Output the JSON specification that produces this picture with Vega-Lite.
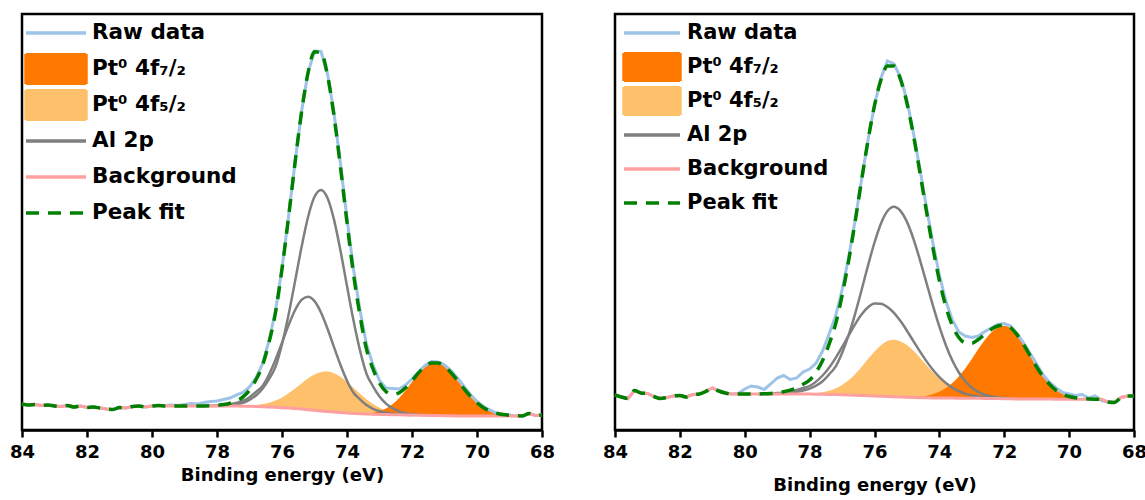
{
  "$schema": "https://vega.github.io/schema/vega-lite/v6.json",
  "background": "white",
  "padding": {"left": 8, "top": 12, "right": 5, "bottom": 5},
  "spacing": 73,
  "bounds": "flush",
  "config": {
    "view": {"stroke": "black", "strokeWidth": 2.5},
    "axis": {"domainColor": "black", "domainWidth": 2.5, "tickColor": "black", "tickWidth": 2.5, "tickSize": 7, "labelFont": "DejaVu Sans", "labelFontSize": 18, "labelFontWeight": "bold", "labelColor": "black", "labelPadding": 6, "titleFont": "DejaVu Sans", "titleFontSize": 18, "titleFontWeight": "bold", "titleColor": "black", "grid": false, "labelFlush": false, "labelOverlap": false},
    "text": {"font": "DejaVu Sans"}
  },
  "resolve": {"scale": {"color": "independent"}, "legend": {"color": "independent"}},
  "datasets": {
    "a": [
      {"E":84.0,"bg":26.0,"raw":26.0,"fit":26.0},
      {"E":83.8,"bg":25.0,"raw":25.0,"fit":25.0},
      {"E":83.6,"bg":25.5,"raw":25.5,"fit":25.5},
      {"E":83.4,"bg":24.5,"raw":24.5,"fit":24.5},
      {"E":83.2,"bg":25.0,"raw":25.0,"fit":25.0},
      {"E":83.0,"bg":24.0,"raw":24.0,"fit":24.0},
      {"E":82.8,"bg":23.5,"raw":23.5,"fit":23.5},
      {"E":82.6,"bg":24.5,"raw":24.5,"fit":24.5},
      {"E":82.4,"bg":23.0,"raw":23.0,"fit":23.0},
      {"E":82.2,"bg":24.0,"raw":24.0,"fit":24.0},
      {"E":82.0,"bg":22.5,"raw":22.5,"fit":22.5},
      {"E":81.8,"bg":23.0,"raw":23.0,"fit":23.0},
      {"E":81.6,"bg":22.0,"raw":22.0,"fit":22.0},
      {"E":81.4,"bg":21.0,"raw":21.0,"fit":21.0},
      {"E":81.2,"bg":20.5,"raw":20.5,"fit":20.5},
      {"E":81.0,"bg":22.5,"raw":22.5,"fit":22.5},
      {"E":80.8,"bg":22.0,"raw":22.0,"fit":22.0},
      {"E":80.6,"bg":23.5,"raw":23.5,"fit":23.5},
      {"E":80.4,"bg":24.0,"raw":24.0,"fit":24.0},
      {"E":80.2,"bg":23.0,"raw":23.0,"fit":23.0},
      {"E":80.0,"bg":24.0,"raw":24.0,"fit":24.0},
      {"E":79.8,"bg":24.5,"raw":24.5,"fit":24.5},
      {"E":79.6,"bg":24.0,"raw":24.5,"fit":24.0},
      {"E":79.4,"bg":24.0,"raw":25.0,"fit":24.0},
      {"E":79.2,"bg":24.0,"raw":24.5,"fit":24.0},
      {"E":79.0,"bg":24.0,"raw":25.5,"fit":24.0},
      {"E":78.8,"bg":24.0,"raw":26.5,"fit":24.0},
      {"E":78.6,"bg":24.0,"raw":26.0,"fit":24.0},
      {"E":78.4,"bg":24.0,"raw":27.5,"fit":24.0,"al2":24.0},
      {"E":78.2,"bg":24.0,"raw":28.5,"fit":24.2,"al1":24.0,"al2":24.2},
      {"E":78.0,"bg":24.0,"raw":29.0,"fit":24.7,"al1":24.2,"al2":24.5},
      {"E":77.8,"bg":24.0,"raw":30.5,"fit":25.4,"al1":24.4,"al2":25.0},
      {"E":77.6,"bg":24.0,"raw":32.0,"fit":26.7,"al1":24.9,"al2":25.8,"p52":24.0},
      {"E":77.4,"bg":23.9,"raw":35.0,"fit":29.1,"al1":25.7,"al2":27.1,"p52":24.1},
      {"E":77.2,"bg":23.8,"raw":37.5,"fit":33.1,"al1":27.3,"al2":29.3,"p52":24.1},
      {"E":77.0,"bg":23.7,"raw":43.0,"fit":39.9,"al1":30.2,"al2":32.7,"p52":24.5},
      {"E":76.8,"bg":23.5,"raw":52.0,"fit":50.4,"al1":34.5,"al2":38.0,"p52":24.9},
      {"E":76.6,"bg":23.3,"raw":66.0,"fit":64.6,"al1":41.3,"al2":44.0,"p52":25.9},
      {"E":76.4,"bg":23.0,"raw":89.0,"fit":87.6,"al1":51.0,"al2":55.4,"p52":27.2},
      {"E":76.2,"bg":22.7,"raw":119.0,"fit":117.5,"al1":63.1,"al2":70.3,"p52":29.5},
      {"E":76.0,"bg":22.3,"raw":162.0,"fit":161.0,"al1":85.7,"al2":87.3,"p52":32.6},
      {"E":75.8,"bg":21.9,"raw":213.0,"fit":212.4,"al1":114.9,"al2":104.6,"p52":36.7},
      {"E":75.6,"bg":21.4,"raw":267.5,"fit":266.9,"al1":148.5,"al2":119.8,"p52":41.4},
      {"E":75.4,"bg":20.9,"raw":318.0,"fit":317.6,"al1":182.7,"al2":130.1,"p52":46.6},
      {"E":75.2,"bg":20.3,"raw":357.5,"fit":357.0,"al1":212.8,"al2":133.3,"p52":51.5},
      {"E":75.0,"bg":19.7,"raw":379.0,"fit":378.2,"al1":233.2,"al2":128.9,"p52":55.5},
      {"E":74.8,"bg":19.1,"raw":378.5,"fit":377.4,"al1":240.1,"al2":117.5,"p52":58.0},
      {"E":74.6,"bg":18.5,"raw":356.5,"fit":354.7,"al1":232.0,"al2":101.2,"p52":58.5},
      {"E":74.4,"bg":17.9,"raw":317.0,"fit":314.3,"al1":210.4,"al2":82.9,"p52":56.8},
      {"E":74.2,"bg":17.4,"raw":266.0,"fit":262.6,"al1":179.2,"al2":65.0,"p52":53.2},
      {"E":74.0,"bg":16.9,"raw":211.5,"fit":207.6,"al1":144.0,"al2":49.3,"p52":48.1},
      {"E":73.8,"bg":16.5,"raw":161.0,"fit":156.0,"al1":109.5,"al2":37.2,"p52":42.2,"p72":16.6},
      {"E":73.6,"bg":16.2,"raw":120.0,"fit":114.4,"al1":79.6,"al2":30.7,"p52":36.2,"p72":16.5},
      {"E":73.4,"bg":15.9,"raw":85.5,"fit":80.9,"al1":56.3,"al2":24.9,"p52":30.7,"p72":16.7},
      {"E":73.2,"bg":15.7,"raw":65.0,"fit":61.1,"al1":43.7,"al2":21.2,"p52":26.0,"p72":17.3},
      {"E":73.0,"bg":15.5,"raw":49.5,"fit":46.8,"al1":33.5,"al2":18.7,"p52":22.3,"p72":18.8},
      {"E":72.8,"bg":15.4,"raw":42.0,"fit":38.4,"al1":26.4,"al2":17.2,"p52":19.6,"p72":21.4},
      {"E":72.6,"bg":15.3,"raw":41.5,"fit":35.8,"al1":21.8,"al2":16.3,"p52":17.9,"p72":25.7},
      {"E":72.4,"bg":15.2,"raw":41.0,"fit":37.1,"al1":18.7,"al2":15.7,"p52":16.6,"p72":31.7},
      {"E":72.2,"bg":15.1,"raw":45.0,"fit":42.2,"al1":16.9,"al2":15.3,"p52":15.9,"p72":39.4},
      {"E":72.0,"bg":15.0,"raw":51.0,"fit":49.2,"al1":15.9,"al2":15.0,"p52":15.3,"p72":48.0},
      {"E":71.8,"bg":14.8,"raw":58.0,"fit":57.1,"al1":15.2,"p52":15.0,"p72":56.5},
      {"E":71.6,"bg":14.7,"raw":64.5,"fit":63.5,"al1":14.9,"p52":14.7,"p72":63.3},
      {"E":71.4,"bg":14.5,"raw":68.5,"fit":67.0,"al1":14.5,"p72":67.0},
      {"E":71.2,"bg":14.4,"raw":68.0,"fit":67.0,"p72":67.0},
      {"E":71.0,"bg":14.2,"raw":65.0,"fit":63.4,"p72":63.4},
      {"E":70.8,"bg":14.2,"raw":59.5,"fit":57.3,"p72":57.3},
      {"E":70.6,"bg":14.1,"raw":52.0,"fit":49.6,"p72":49.6},
      {"E":70.4,"bg":14.1,"raw":43.5,"fit":41.3,"p72":41.3},
      {"E":70.2,"bg":14.0,"raw":35.5,"fit":33.6,"p72":33.6},
      {"E":70.0,"bg":14.0,"raw":28.5,"fit":27.2,"p72":27.2},
      {"E":69.8,"bg":14.0,"raw":23.5,"fit":22.3,"p72":22.3},
      {"E":69.6,"bg":14.0,"raw":20.0,"fit":18.9,"p72":18.9},
      {"E":69.4,"bg":14.0,"raw":17.0,"fit":16.7,"p72":16.7},
      {"E":69.2,"bg":14.0,"raw":15.5,"fit":15.4,"p72":15.4},
      {"E":69.0,"bg":14.0,"raw":15.0,"fit":14.7,"p72":14.7},
      {"E":68.8,"bg":14.0,"raw":14.0,"fit":14.3,"p72":14.3},
      {"E":68.6,"bg":14.0,"raw":14.5,"fit":14.1,"p72":14.0},
      {"E":68.4,"bg":16.5,"raw":16.5,"fit":16.5},
      {"E":68.2,"bg":14.5,"raw":14.5,"fit":14.5},
      {"E":68.0,"bg":15.0,"raw":15.0,"fit":15.0}
    ],
    "b": [
      {"E":84.0,"bg":35.0,"raw":35.0,"fit":35.0},
      {"E":83.8,"bg":33.0,"raw":33.0,"fit":33.0},
      {"E":83.6,"bg":31.5,"raw":31.5,"fit":31.5},
      {"E":83.4,"bg":39.5,"raw":39.5,"fit":39.5},
      {"E":83.2,"bg":37.0,"raw":37.0,"fit":37.0},
      {"E":83.0,"bg":36.5,"raw":36.5,"fit":36.5},
      {"E":82.8,"bg":33.5,"raw":33.5,"fit":33.5},
      {"E":82.6,"bg":31.5,"raw":31.5,"fit":31.5},
      {"E":82.4,"bg":32.5,"raw":32.5,"fit":32.5},
      {"E":82.2,"bg":34.0,"raw":34.0,"fit":34.0},
      {"E":82.0,"bg":34.5,"raw":34.5,"fit":34.5},
      {"E":81.8,"bg":33.0,"raw":33.0,"fit":33.0},
      {"E":81.6,"bg":35.5,"raw":35.5,"fit":35.5},
      {"E":81.4,"bg":36.0,"raw":36.0,"fit":36.0},
      {"E":81.2,"bg":38.5,"raw":38.5,"fit":38.5},
      {"E":81.0,"bg":42.0,"raw":42.0,"fit":42.0},
      {"E":80.8,"bg":39.0,"raw":39.0,"fit":39.0},
      {"E":80.6,"bg":37.0,"raw":37.0,"fit":37.0},
      {"E":80.4,"bg":36.0,"raw":36.0,"fit":36.0},
      {"E":80.2,"bg":36.0,"raw":36.5,"fit":36.0},
      {"E":80.0,"bg":36.0,"raw":41.0,"fit":36.0},
      {"E":79.8,"bg":36.0,"raw":44.0,"fit":36.0},
      {"E":79.6,"bg":36.0,"raw":43.0,"fit":36.0,"al2":36.0},
      {"E":79.4,"bg":36.0,"raw":40.5,"fit":36.2,"al2":36.2},
      {"E":79.2,"bg":36.0,"raw":46.0,"fit":36.5,"al1":36.0,"al2":36.5},
      {"E":79.0,"bg":36.0,"raw":52.0,"fit":37.2,"al1":36.3,"al2":36.9},
      {"E":78.8,"bg":36.0,"raw":54.5,"fit":38.3,"al1":36.7,"al2":37.6},
      {"E":78.6,"bg":36.0,"raw":50.5,"fit":39.9,"al1":37.3,"al2":38.6},
      {"E":78.4,"bg":36.0,"raw":52.0,"fit":42.2,"al1":38.2,"al2":40.0,"p52":36.0},
      {"E":78.2,"bg":36.0,"raw":58.0,"fit":45.8,"al1":39.5,"al2":42.0,"p52":36.3},
      {"E":78.0,"bg":35.9,"raw":61.0,"fit":50.0,"al1":41.4,"al2":44.0,"p52":36.4},
      {"E":77.8,"bg":35.8,"raw":67.0,"fit":58.0,"al1":44.3,"al2":48.4,"p52":36.9},
      {"E":77.6,"bg":35.7,"raw":79.0,"fit":69.5,"al1":48.7,"al2":54.5,"p52":37.7},
      {"E":77.4,"bg":35.6,"raw":96.0,"fit":85.9,"al1":55.6,"al2":62.3,"p52":39.2},
      {"E":77.2,"bg":35.4,"raw":114.0,"fit":105.9,"al1":63.4,"al2":71.9,"p52":41.4},
      {"E":77.0,"bg":35.2,"raw":140.0,"fit":134.3,"al1":77.0,"al2":82.8,"p52":44.9},
      {"E":76.8,"bg":35.0,"raw":172.0,"fit":168.7,"al1":94.7,"al2":94.3,"p52":49.7},
      {"E":76.6,"bg":34.8,"raw":209.0,"fit":207.8,"al1":115.9,"al2":105.7,"p52":55.8},
      {"E":76.4,"bg":34.5,"raw":250.0,"fit":249.4,"al1":139.8,"al2":115.5,"p52":63.1},
      {"E":76.2,"bg":34.3,"raw":290.0,"fit":289.5,"al1":164.5,"al2":122.7,"p52":70.9},
      {"E":76.0,"bg":34.0,"raw":325.0,"fit":324.5,"al1":187.5,"al2":126.5,"p52":78.5},
      {"E":75.8,"bg":33.7,"raw":352.0,"fit":350.2,"al1":206.6,"al2":126.3,"p52":84.7},
      {"E":75.6,"bg":33.4,"raw":369.0,"fit":364.1,"al1":219.0,"al2":123.0,"p52":88.9},
      {"E":75.4,"bg":33.2,"raw":366.0,"fit":364.1,"al1":223.2,"al2":117.1,"p52":90.2},
      {"E":75.2,"bg":32.9,"raw":353.0,"fit":350.8,"al1":219.1,"al2":108.9,"p52":88.6},
      {"E":75.0,"bg":32.7,"raw":330.0,"fit":326.9,"al1":208.1,"al2":99.3,"p52":84.9,"p72":32.7},
      {"E":74.8,"bg":32.5,"raw":297.0,"fit":294.9,"al1":191.2,"al2":88.9,"p52":79.2,"p72":33.1},
      {"E":74.6,"bg":32.3,"raw":261.0,"fit":257.6,"al1":170.2,"al2":78.6,"p52":72.3,"p72":33.4},
      {"E":74.4,"bg":32.2,"raw":223.0,"fit":219.0,"al1":147.4,"al2":68.9,"p52":65.0,"p72":34.3},
      {"E":74.2,"bg":32.1,"raw":187.0,"fit":182.2,"al1":124.6,"al2":60.3,"p52":57.8,"p72":35.8},
      {"E":74.0,"bg":32.0,"raw":155.0,"fit":149.6,"al1":103.3,"al2":52.9,"p52":51.2,"p72":38.2},
      {"E":73.8,"bg":32.0,"raw":129.0,"fit":123.5,"al1":84.8,"al2":47.0,"p52":45.8,"p72":41.9},
      {"E":73.6,"bg":31.9,"raw":110.0,"fit":104.5,"al1":69.5,"al2":42.4,"p52":41.4,"p72":46.9},
      {"E":73.4,"bg":31.8,"raw":98.0,"fit":92.5,"al1":57.5,"al2":38.8,"p52":38.0,"p72":53.6},
      {"E":73.2,"bg":31.8,"raw":94.0,"fit":87.2,"al1":48.7,"al2":36.4,"p52":35.7,"p72":61.8},
      {"E":73.0,"bg":31.7,"raw":92.5,"fit":86.8,"al1":42.3,"al2":34.6,"p52":34.0,"p72":71.0},
      {"E":72.8,"bg":31.7,"raw":94.0,"fit":90.5,"al1":38.2,"al2":33.5,"p52":33.0,"p72":80.9},
      {"E":72.6,"bg":31.6,"raw":98.5,"fit":95.6,"al1":35.4,"al2":32.6,"p52":32.3,"p72":90.1},
      {"E":72.4,"bg":31.5,"raw":102.0,"fit":100.7,"al1":33.6,"al2":32.1,"p52":31.9,"p72":97.6},
      {"E":72.2,"bg":31.4,"raw":105.5,"fit":104.0,"al1":32.5,"al2":31.7,"p52":31.4,"p72":102.6},
      {"E":72.0,"bg":31.3,"raw":106.5,"fit":104.9,"al1":31.9,"al2":31.3,"p72":104.3},
      {"E":71.8,"bg":31.2,"raw":104.0,"fit":102.2,"al1":31.5,"p72":101.9},
      {"E":71.6,"bg":31.1,"raw":96.0,"fit":95.1,"al1":31.1,"p72":95.1},
      {"E":71.4,"bg":31.0,"raw":87.0,"fit":85.3,"p72":85.3},
      {"E":71.2,"bg":31.0,"raw":76.5,"fit":74.1,"p72":74.1},
      {"E":71.0,"bg":30.9,"raw":66.0,"fit":63.0,"p72":63.0},
      {"E":70.8,"bg":30.9,"raw":55.0,"fit":53.2,"p72":53.2},
      {"E":70.6,"bg":30.9,"raw":47.5,"fit":45.5,"p72":45.5},
      {"E":70.4,"bg":30.8,"raw":42.0,"fit":39.7,"p72":39.7},
      {"E":70.2,"bg":30.8,"raw":37.5,"fit":35.9,"p72":35.9},
      {"E":70.0,"bg":30.8,"raw":36.0,"fit":33.5,"p72":33.5},
      {"E":69.8,"bg":30.8,"raw":34.5,"fit":32.2,"p72":32.2},
      {"E":69.6,"bg":30.8,"raw":35.5,"fit":31.4,"p72":31.4},
      {"E":69.4,"bg":30.8,"raw":32.0,"fit":31.1,"p72":31.1},
      {"E":69.2,"bg":30.8,"raw":34.0,"fit":30.8,"p72":30.8},
      {"E":69.0,"bg":30.8,"raw":29.5,"fit":30.8},
      {"E":68.8,"bg":28.0,"raw":28.0,"fit":28.0},
      {"E":68.6,"bg":27.5,"raw":27.5,"fit":27.5},
      {"E":68.4,"bg":32.5,"raw":32.5,"fit":32.5},
      {"E":68.2,"bg":34.0,"raw":34.0,"fit":34.0},
      {"E":68.0,"bg":34.0,"raw":34.0,"fit":34.0}
    ]
  },
  "hconcat": [
    {
      "width": 520,
      "height": 416,
      "data": {"name": "a"},
      "encoding": {
        "x": {"field": "E", "type": "quantitative", "scale": {"domain": [68, 84], "reverse": true, "nice": false, "zero": false}, "axis": {"values": [68, 70, 72, 74, 76, 78, 80, 82, 84], "title": "Binding energy (eV)", "titlePadding": 5, "format": "d"}}
      },
      "layer": [
        {"mark": {"type": "area", "interpolate": "monotone"}, "encoding": {"y": {"field": "p52", "type": "quantitative", "scale": {"domain": [0, 416], "nice": false, "zero": false}, "axis": null}, "y2": {"field": "bg"}, "color": {"datum": "Pt⁰ 4f₅/₂", "type": "nominal", "scale": {"domain": ["Raw data", "Pt⁰ 4f₇/₂", "Pt⁰ 4f₅/₂", "Al 2p", "Background", "Peak fit"], "range": ["#9DC3E6", "#FF7800", "#FFC06B", "#7F7F7F", "#FFA0A0", "#008000"]}, "legend": {"title": null, "orient": "none", "legendX": 2, "legendY": 3, "padding": 0, "symbolSize": 3600, "clipHeight": 32, "rowPadding": 4, "labelOffset": 4, "symbolOffset": 0, "labelFont": "DejaVu Sans", "labelFontSize": 21.5, "labelFontWeight": "bold", "labelColor": "black", "labelLimit": 400, "symbolStrokeWidth": 3.5, "encode": {"symbols": {"update": {"shape": {"signal": "indexof(datum.value, 'Pt') == 0 ? 'M-1,-0.5H1V0.5H-1Z' : 'M-1,0H1'"}, "fill": {"signal": "datum.value == 'Pt⁰ 4f₇/₂' ? '#FF7800' : datum.value == 'Pt⁰ 4f₅/₂' ? '#FFC06B' : 'transparent'"}, "stroke": {"signal": "datum.value == 'Raw data' ? '#9DC3E6' : datum.value == 'Al 2p' ? '#7F7F7F' : datum.value == 'Background' ? '#FFA0A0' : datum.value == 'Peak fit' ? '#008000' : 'transparent'"}, "strokeDash": {"signal": "datum.value == 'Peak fit' ? [13, 9] : [1, 0]"}, "strokeWidth": {"value": 3.5}, "opacity": {"value": 1}}}}}}}},
        {"mark": {"type": "area", "interpolate": "monotone"}, "encoding": {"y": {"field": "p72", "type": "quantitative", "axis": null}, "y2": {"field": "bg"}, "color": {"datum": "Pt⁰ 4f₇/₂", "type": "nominal"}}},
        {"mark": {"type": "line", "interpolate": "monotone", "strokeWidth": 2.5}, "encoding": {"y": {"field": "al1", "type": "quantitative", "axis": null}, "color": {"datum": "Al 2p", "type": "nominal"}}},
        {"mark": {"type": "line", "interpolate": "monotone", "strokeWidth": 2.5}, "encoding": {"y": {"field": "al2", "type": "quantitative", "axis": null}, "color": {"datum": "Al 2p", "type": "nominal"}}},
        {"mark": {"type": "line", "strokeWidth": 3}, "encoding": {"y": {"field": "raw", "type": "quantitative", "axis": null}, "color": {"datum": "Raw data", "type": "nominal"}}},
        {"mark": {"type": "line", "strokeWidth": 3}, "encoding": {"y": {"field": "bg", "type": "quantitative", "axis": null}, "color": {"datum": "Background", "type": "nominal"}}},
        {"mark": {"type": "line", "interpolate": "monotone", "strokeWidth": 3.5, "strokeDash": [13, 9]}, "encoding": {"y": {"field": "fit", "type": "quantitative", "axis": null}, "color": {"datum": "Peak fit", "type": "nominal"}}},
        {"data": {"values": [{"label": "(a)"}]}, "mark": {"type": "text", "align": "right", "baseline": "middle", "fontSize": 19, "fontWeight": "bold", "font": "DejaVu Sans", "color": "black"}, "encoding": {"x": {"datum": 68.22}, "y": {"datum": 400}, "text": {"field": "label"}}}
      ]
    },
    {
      "width": 519,
      "height": 416,
      "data": {"name": "b"},
      "encoding": {
        "x": {"field": "E", "type": "quantitative", "scale": {"domain": [68, 84], "reverse": true, "nice": false, "zero": false}, "axis": {"values": [68, 70, 72, 74, 76, 78, 80, 82, 84], "title": "Binding energy (eV)", "titlePadding": 15, "format": "d"}}
      },
      "layer": [
        {"mark": {"type": "area", "interpolate": "monotone"}, "encoding": {"y": {"field": "p52", "type": "quantitative", "scale": {"domain": [0, 416], "nice": false, "zero": false}, "axis": null}, "y2": {"field": "bg"}, "color": {"datum": "Pt⁰ 4f₅/₂", "type": "nominal", "scale": {"domain": ["Raw data", "Pt⁰ 4f₇/₂", "Pt⁰ 4f₅/₂", "Al 2p", "Background", "Peak fit"], "range": ["#9DC3E6", "#FF7800", "#FFC06B", "#7F7F7F", "#FFA0A0", "#008000"]}, "legend": {"title": null, "orient": "none", "legendX": 7, "legendY": 4, "padding": 0, "symbolSize": 3136, "clipHeight": 30, "rowPadding": 4, "labelOffset": 5, "symbolOffset": 0, "labelFont": "DejaVu Sans", "labelFontSize": 21, "labelFontWeight": "bold", "labelColor": "black", "labelLimit": 400, "symbolStrokeWidth": 3.5, "encode": {"symbols": {"update": {"shape": {"signal": "indexof(datum.value, 'Pt') == 0 ? 'M-1,-0.5H1V0.5H-1Z' : 'M-1,0H1'"}, "fill": {"signal": "datum.value == 'Pt⁰ 4f₇/₂' ? '#FF7800' : datum.value == 'Pt⁰ 4f₅/₂' ? '#FFC06B' : 'transparent'"}, "stroke": {"signal": "datum.value == 'Raw data' ? '#9DC3E6' : datum.value == 'Al 2p' ? '#7F7F7F' : datum.value == 'Background' ? '#FFA0A0' : datum.value == 'Peak fit' ? '#008000' : 'transparent'"}, "strokeDash": {"signal": "datum.value == 'Peak fit' ? [13, 9] : [1, 0]"}, "strokeWidth": {"value": 3.5}, "opacity": {"value": 1}}}}}}}},
        {"mark": {"type": "area", "interpolate": "monotone"}, "encoding": {"y": {"field": "p72", "type": "quantitative", "axis": null}, "y2": {"field": "bg"}, "color": {"datum": "Pt⁰ 4f₇/₂", "type": "nominal"}}},
        {"mark": {"type": "line", "interpolate": "monotone", "strokeWidth": 2.5}, "encoding": {"y": {"field": "al1", "type": "quantitative", "axis": null}, "color": {"datum": "Al 2p", "type": "nominal"}}},
        {"mark": {"type": "line", "interpolate": "monotone", "strokeWidth": 2.5}, "encoding": {"y": {"field": "al2", "type": "quantitative", "axis": null}, "color": {"datum": "Al 2p", "type": "nominal"}}},
        {"mark": {"type": "line", "strokeWidth": 3}, "encoding": {"y": {"field": "raw", "type": "quantitative", "axis": null}, "color": {"datum": "Raw data", "type": "nominal"}}},
        {"mark": {"type": "line", "strokeWidth": 3}, "encoding": {"y": {"field": "bg", "type": "quantitative", "axis": null}, "color": {"datum": "Background", "type": "nominal"}}},
        {"mark": {"type": "line", "interpolate": "monotone", "strokeWidth": 3.5, "strokeDash": [13, 9]}, "encoding": {"y": {"field": "fit", "type": "quantitative", "axis": null}, "color": {"datum": "Peak fit", "type": "nominal"}}},
        {"data": {"values": [{"label": "(b)"}]}, "mark": {"type": "text", "align": "right", "baseline": "middle", "fontSize": 19, "fontWeight": "bold", "font": "DejaVu Sans", "color": "black"}, "encoding": {"x": {"datum": 68.25}, "y": {"datum": 390}, "text": {"field": "label"}}}
      ]
    }
  ]
}
